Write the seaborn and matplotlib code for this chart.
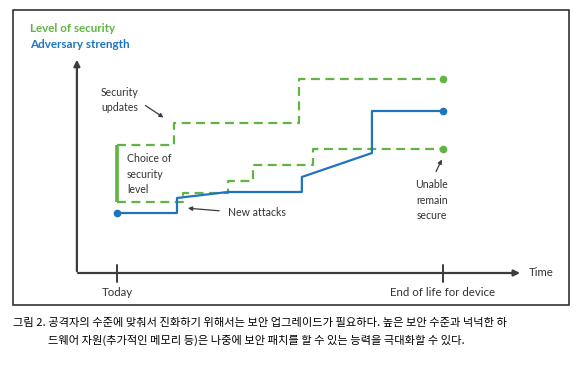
import numpy as np
import matplotlib.pyplot as plt
import seaborn as sns

# Data (time: today = 0, end of life = 10 ; level in arbitrary units)
adv_t = [0, 1.84, 1.84, 3.40, 5.67, 5.67, 7.82, 7.82, 10]
adv_level = [6.0, 6.0, 7.5, 8.1, 8.1, 9.6, 12.0, 16.2, 16.2]

sec_low_t = [0, 2.02, 3.40, 4.17, 6.01, 10]
sec_low_level = [7.1, 8.0, 9.2, 10.8, 12.4, 12.4]

sec_high_t = [0, 1.75, 5.58, 10]
sec_high_level = [12.8, 15.0, 19.4, 19.4]

tick_t = [0, 10]
tick_labels = ["Today", "End of life for device"]

caption1 = "그림 2. 공격자의 수준에 맞춰서 진화하기 위해서는 보안 업그레이드가 필요하다. 높은 보안 수준과 넉넉한 하"
caption2 = "드웨어 자원(추가적인 메모리 등)은 나중에 보안 패치를 할 수 있는 능력을 극대화할 수 있다."

GREEN = "#5fb443"
BLUE = "#1f74c2"
AXC = "#3c3c3c"
TXT = "#333333"

sns.set_theme(style="white")
plt.rcParams['font.family'] = ['Lato', 'DejaVu Sans']

fig = plt.figure(figsize=(5.88, 3.66), dpi=100)
ax = fig.add_axes([0, 0, 1, 1])
ax.set_xlim(-117 / 32.6, (588 - 117) / 32.6)
ax.set_ylim(-9.3, 27.3)
ax.axis("off")

# frame
ax.add_patch(plt.Rectangle((0.022, 0.167), 0.946, 0.806, transform=ax.transAxes,
                           fill=False, ec="#222222", lw=1.1))

# axes arrows
ax.annotate("", xy=(-1.23, 21.6), xytext=(-1.23, -0.1),
            arrowprops=dict(arrowstyle="-|>", color=AXC, lw=1.6, mutation_scale=9))
ax.annotate("", xy=(12.45, 0), xytext=(-1.28, 0),
            arrowprops=dict(arrowstyle="-|>", color=AXC, lw=1.6, mutation_scale=9))
ax.text(12.62, 0, "Time", fontsize=8.2, color=TXT, va="center", ha="left")
for t, lab in zip(tick_t, tick_labels):
    ax.plot([t, t], [-0.9, 0.8], color=AXC, lw=1.4)
    ax.text(t, -1.9, lab, fontsize=8.3, color=TXT, ha="center", va="center")

# lines
sns.lineplot(x=sec_high_t, y=sec_high_level, estimator=None, sort=False, ax=ax,
             color=GREEN, lw=1.6, linestyle=(0, (4, 2.5)), drawstyle="steps-post")
sns.lineplot(x=sec_low_t, y=sec_low_level, estimator=None, sort=False, ax=ax,
             color=GREEN, lw=1.6, linestyle=(0, (4, 2.5)), drawstyle="steps-post")
sns.lineplot(x=adv_t, y=adv_level, estimator=None, sort=False, ax=ax,
             color=BLUE, lw=1.6)
ax.plot([0, 0], [sec_low_level[0], sec_high_level[0]], color=GREEN, lw=2.6, solid_capstyle="butt")

# end points
ax.plot([sec_high_t[-1], sec_low_t[-1]], [sec_high_level[-1], sec_low_level[-1]], "o",
        color=GREEN, ms=4.5)
ax.plot([adv_t[0], adv_t[-1]], [adv_level[0], adv_level[-1]], "o", color=BLUE, ms=4.5)

# legend-like labels
ax.text(-2.67, 24.5, "Level of security", color=GREEN, fontsize=8.4, fontweight="bold", va="center")
ax.text(-2.67, 22.9, "Adversary strength", color=BLUE, fontsize=8.4, fontweight="bold", va="center")

# annotations
arw = dict(arrowstyle="-|>", color=AXC, lw=0.9, mutation_scale=6)
ax.text(-0.49, 17.3, "Security\nupdates", fontsize=7.6, color=TXT, va="center", ha="left",
        linespacing=1.45)
ax.annotate("", xy=(1.50, 15.4), xytext=(0.80, 16.9), arrowprops=arw)
ax.text(0.31, 9.9, "Choice of\nsecurity\nlevel", fontsize=7.6, color=TXT, va="center", ha="left",
        linespacing=1.45)
ax.text(3.40, 6.1, "New attacks", fontsize=7.6, color=TXT, va="center", ha="left")
ax.annotate("", xy=(2.09, 6.5), xytext=(3.22, 6.2), arrowprops=arw)
ax.text(9.66, 7.3, "Unable\nremain\nsecure", fontsize=7.6, color=TXT, va="center", ha="center",
        linespacing=1.45)
ax.annotate("", xy=(10.0, 11.6), xytext=(9.75, 9.9), arrowprops=arw)

# caption
cap_font = ['Noto Sans CJK KR', 'DejaVu Sans']
fig.text(13 / 588, 1 - 323 / 366, caption1, fontsize=8.1, family=cap_font,
         color="black", va="center", ha="left")
fig.text(48 / 588, 1 - 340 / 366, caption2, fontsize=8.1, family=cap_font,
         color="black", va="center", ha="left")

fig.savefig("out.png", dpi=100)
